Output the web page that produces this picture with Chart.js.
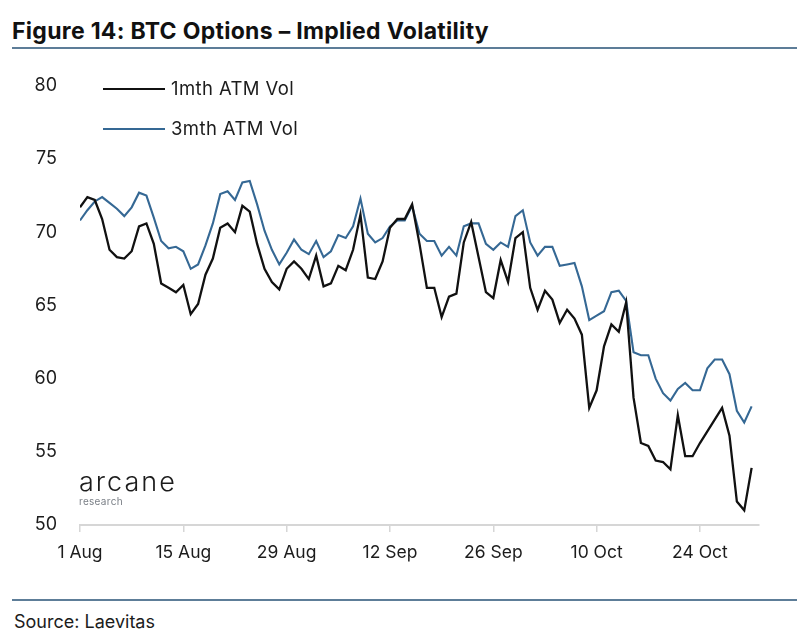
<!DOCTYPE html>
<html>
<head>
<meta charset="utf-8">
<script src="https://cdn.jsdelivr.net/npm/chart.js@4"></script>
<style>
  html, body { margin: 0; padding: 0; background: #fff; }
  body { width: 811px; height: 642px; position: relative; overflow: hidden; font-family: Inter, "Noto Sans", sans-serif; color: #111; }
  #title { position: absolute; left: 12px; top: 17px; font-size: 23px; font-weight: 700; letter-spacing: 0.3px; }
  .rule { position: absolute; left: 12px; width: 785px; height: 2px; background: #5d7d98; }
  #wrap { position: absolute; left: 0; top: 60px; width: 811px; height: 520px; }
  #logo { position: absolute; left: 79px; top: 468px; font-size: 27px; font-weight: 300; letter-spacing: 2px; color: #1c1c1c; line-height: 1; }
  #logo small { display: block; font-size: 10px; letter-spacing: 0.3px; color: #7a7f86; margin-top: 1px; font-weight: 400; }
  #source { position: absolute; left: 14px; top: 611px; font-size: 18px; color: #1c1c1c; }
</style>
</head>
<body>
<div id="title">Figure 14: BTC Options – Implied Volatility</div>
<div class="rule" style="top:47px"></div>
<div id="wrap"><canvas id="iv"></canvas></div>
<div id="logo">arcane<small>research</small></div>
<div class="rule" style="top:599px"></div>
<div id="source">Source: Laevitas</div>
<script>
const black = '#111111';
const blue  = '#356894';

// daily points, 1 Aug .. 31 Oct
const tickLabels = ['1 Aug', '15 Aug', '29 Aug', '12 Sep', '26 Sep', '10 Oct', '24 Oct'];

const vol1m = [
  71.7, 72.4, 72.2, 70.9, 68.8, 68.3, 68.2, 68.7, 70.4, 70.6,
  69.2, 66.5, 66.2, 65.9, 66.4, 64.4, 65.1, 67.1, 68.2, 70.3,
  70.6, 70.0, 71.8, 71.4, 69.2, 67.5, 66.6, 66.1, 67.5, 68.0,
  67.5, 66.8, 68.4, 66.3, 66.5, 67.7, 67.4, 68.8, 71.2, 66.9,
  66.8, 68.0, 70.3, 70.9, 70.9, 71.9, 69.2, 66.2, 66.2, 64.2,
  65.6, 65.8, 69.3, 70.7, 68.3, 65.9, 65.5, 68.1, 66.6, 69.6,
  70.0, 66.2, 64.7, 66.0, 65.4, 63.8, 64.7, 64.1, 63.0, 58.0,
  59.2, 62.2, 63.7, 63.2, 65.2, 58.7, 55.6, 55.4, 54.4, 54.3,
  53.8, 57.5, 54.7, 54.7, 55.6, 56.4, 57.2, 58.0, 56.1, 51.6,
  51.0, 53.9
];

const vol3m = [
  70.8, 71.5, 72.1, 72.4, 72.0, 71.6, 71.1, 71.7, 72.7, 72.5,
  71.0, 69.4, 68.9, 69.0, 68.7, 67.5, 67.8, 69.1, 70.6, 72.6,
  72.8, 72.2, 73.4, 73.5, 71.9, 70.1, 68.8, 67.8, 68.6, 69.5,
  68.8, 68.5, 69.4, 68.3, 68.7, 69.8, 69.6, 70.4, 72.3, 69.9,
  69.3, 69.6, 70.4, 70.8, 70.8, 71.8, 69.9, 69.4, 69.4, 68.4,
  69.0, 68.4, 70.4, 70.6, 70.6, 69.2, 68.8, 69.3, 69.0, 71.1,
  71.5, 69.3, 68.4, 69.0, 69.0, 67.7, 67.8, 67.9, 66.3, 64.0,
  64.3, 64.6, 65.9, 66.0, 65.3, 61.8, 61.6, 61.6, 60.0, 59.0,
  58.5, 59.3, 59.7, 59.2, 59.2, 60.7, 61.3, 61.3, 60.3, 57.8,
  57.0, 58.1
];

const seriesNames = ['1mth ATM Vol', '3mth ATM Vol'];

const toXY = arr => arr.map((v, i) => ({ x: i, y: v }));
const FONT = 'Inter, "Noto Sans", sans-serif';

const legendInside = {
  id: 'legendInside',
  afterDraw(chart) {
    const c = chart.ctx;
    const rows = [[seriesNames[0], black, 2.2, 29], [seriesNames[1], blue, 2, 69]];
    c.save();
    c.font = '18.5px ' + FONT;
    c.letterSpacing = '0.4px';
    c.textBaseline = 'middle';
    rows.forEach(([txt, col, w, y]) => {
      c.strokeStyle = col;
      c.lineWidth = w;
      c.beginPath();
      c.moveTo(103, y);
      c.lineTo(165, y);
      c.stroke();
      c.fillStyle = '#1c1c1c';
      c.fillText(txt, 171, y);
    });
    c.restore();
  }
};

new Chart(document.getElementById('iv'), {
  type: 'line',
  data: {
    datasets: [
      { label: seriesNames[0], data: toXY(vol1m), borderColor: black, borderWidth: 2.3 },
      { label: seriesNames[1], data: toXY(vol3m), borderColor: blue, borderWidth: 2.1 }
    ]
  },
  options: {
    responsive: true,
    maintainAspectRatio: false,
    animation: false,
    layout: { padding: { top: 25, right: 52, bottom: 0, left: 0 } },
    elements: { point: { radius: 0 }, line: { tension: 0 } },
    plugins: { legend: { display: false }, tooltip: { enabled: false } },
    scales: {
      x: {
        type: 'linear',
        min: 0, max: 92,
        afterBuildTicks: s => {
          s.ticks = tickLabels.map((_, k) => ({ value: k * 14 }));
        },
        afterFit: s => { s.height = 55; },
        grid: { drawOnChartArea: false, drawTicks: true, tickLength: 7, color: '#d6d6d6', lineWidth: 1.5 },
        border: { display: true, color: '#d6d6d6', width: 2 },
        ticks: {
          maxRotation: 0, autoSkip: false, padding: 10,
          font: { size: 17.5, family: FONT }, color: '#1c1c1c',
          callback: v => tickLabels[v / 14]
        }
      },
      y: {
        min: 50, max: 80,
        afterFit: s => { s.width = 80; },
        grid: { display: false },
        border: { display: false },
        ticks: {
          stepSize: 5, padding: 15,
          font: { size: 18, family: FONT }, color: '#1c1c1c'
        }
      }
    }
  },
  plugins: [legendInside]
});
</script>
</body>
</html>
